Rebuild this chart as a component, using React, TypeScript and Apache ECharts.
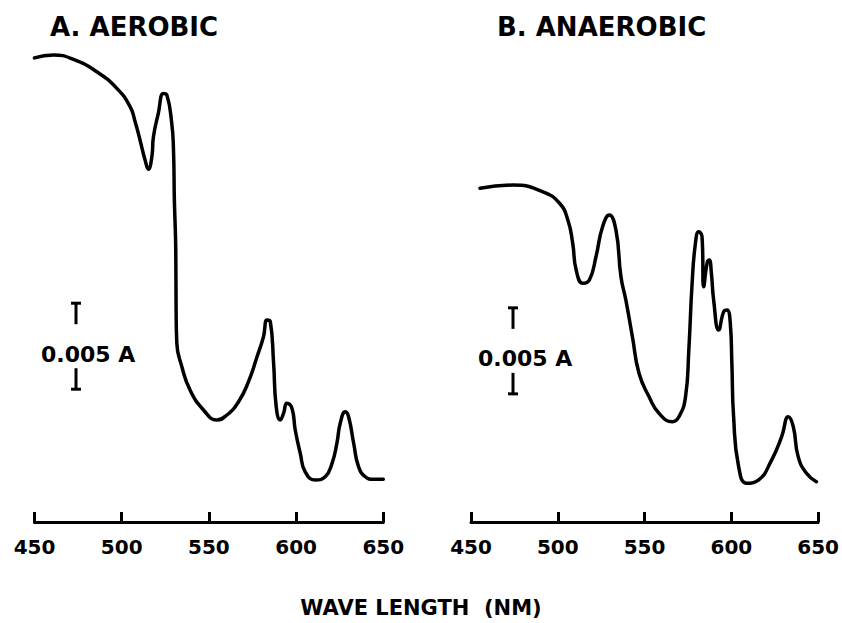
import { useEffect, useRef } from "react";
import * as echarts from "echarts";

// Wavelength (nm) and relative absorbance (units of 0.001 A, arbitrary baseline)
const aerobicNm = [450, 460.8, 472.3, 485.7, 497.2, 504.8, 507.7, 510.5, 513.4, 515.3, 517.3, 518.2, 521, 523.9, 525.9, 528.7, 529.7, 530.2, 531, 531.2, 531.6, 534.5, 539.2, 546.9, 554.6, 560.3, 567, 572.7, 577.6, 581.3, 583.3, 585.2, 587.1, 588.6, 590.9, 592.8, 594.7, 597.6, 599.5, 602.4, 605.2, 610.9, 616.7, 620.6, 623.4, 625.3, 628.2, 630.1, 633, 635.8, 639.7, 644.4, 650];
const aerobicAbs = [26.98, 27.15, 26.9, 26.18, 25.21, 24.15, 23.27, 22.21, 21.05, 20.51, 21.24, 22.4, 23.76, 24.92, 24.83, 23.18, 21.63, 18.72, 15.81, 12.33, 10.39, 9.03, 7.67, 6.51, 5.93, 6.22, 6.99, 8.16, 9.61, 10.77, 11.74, 11.65, 9.23, 6.7, 5.93, 6.32, 6.9, 6.61, 5.35, 3.99, 2.92, 2.44, 2.63, 3.41, 4.58, 5.74, 6.41, 6.12, 4.58, 3.22, 2.63, 2.48, 2.48];

const anaerobicNm = [455.2, 474.3, 491.4, 501, 505.8, 508.6, 510.6, 514.4, 518.2, 522, 525.8, 529.7, 533.5, 536.4, 539.2, 543, 546.8, 552.6, 558.3, 566, 569.8, 573.6, 575.5, 577.4, 579.3, 581.2, 583.1, 584.1, 586, 587.3, 588.5, 589.8, 592.7, 595.6, 597.5, 599.4, 600.3, 601.3, 604.2, 608.9, 615.6, 623.2, 629, 632.8, 635.7, 638.5, 643.3, 649];
const anaerobicAbs = [19.4, 19.59, 19.2, 18.53, 17.56, 16.2, 14.65, 13.88, 14.07, 15.42, 17.17, 17.85, 16.98, 14.26, 12.91, 10.77, 8.65, 7.28, 6.32, 5.83, 6.12, 7.28, 10.0, 13.88, 16.2, 16.88, 16.59, 13.68, 15.04, 15.23, 14.46, 12.91, 11.16, 12.23, 12.33, 11.55, 9.23, 6.12, 3.22, 2.25, 2.44, 3.6, 4.96, 6.12, 5.54, 3.8, 2.83, 2.34];

const panelTitles = ["A. AEROBIC", "B. ANAEROBIC"];
const xTicks = [450, 500, 550, 600, 650];
const axisTitle = "WAVE LENGTH  (NM)";

// Scale bar: position (nm), bottom value, span (0.005 A = 5 units)
const scaleBarNm = [473.8, 474.2];
const scaleBarBottom = [7.72, 7.45];
const scaleBarSpan = 5;
const scaleBarLabel = "0.005 A";

const FONT = '"DejaVu Sans", "Liberation Sans", sans-serif';

export default function App() {
  const ref = useRef<HTMLDivElement>(null);
  useEffect(() => {
    const chart = echarts.init(ref.current!, null, { renderer: "svg" });
    const grids = [
      { left: 34.5, right: 842 - 383.3, top: 40.4, bottom: 101 },
      { left: 471, right: 842 - 820, top: 40.4, bottom: 101 },
    ];
    const xAxes = grids.map((_, i) => ({
      gridIndex: i,
      type: "value",
      min: xTicks[0],
      max: xTicks[xTicks.length - 1],
      interval: xTicks[1] - xTicks[0],
      axisLine: { lineStyle: { color: "#000", width: 3, cap: "round" } },
      axisTick: { inside: true, length: 10, lineStyle: { color: "#000", width: 3 } },
      axisLabel: { color: "#000", fontSize: 20, fontWeight: "bold", fontFamily: FONT, margin: 15 },
      splitLine: { show: false },
    }));
    const yAxes = grids.map((_, i) => ({ gridIndex: i, type: "value", min: 0, max: 28, show: false }));
    const curves = [
      aerobicNm.map((x, i) => [x, aerobicAbs[i]]),
      anaerobicNm.map((x, i) => [x, anaerobicAbs[i]]),
    ];
    const lineSeries = curves.map((data, i) => ({
      type: "line",
      xAxisIndex: i,
      yAxisIndex: i,
      data,
      showSymbol: false,
      smooth: 0.5,
      lineStyle: { color: "#000", width: 3.5, cap: "round", join: "round" },
    }));
    const barSeries = scaleBarNm.map((x, i) => ({
      type: "custom",
      xAxisIndex: i,
      yAxisIndex: i,
      data: [[x, scaleBarBottom[i], scaleBarBottom[i] + scaleBarSpan]],
      renderItem: (_p: any, api: any) => {
        const xv = api.value(0);
        const top = api.coord([xv, api.value(2)]);
        const bot = api.coord([xv, api.value(1)]);
        const cap = 5;
        const seg = 21;
        const style = { stroke: "#000", lineWidth: 3 };
        return {
          type: "group",
          children: [
            { type: "line", shape: { x1: top[0] - cap, y1: top[1], x2: top[0] + cap, y2: top[1] }, style },
            { type: "line", shape: { x1: top[0], y1: top[1], x2: top[0], y2: top[1] + seg }, style },
            { type: "line", shape: { x1: bot[0], y1: bot[1] - seg, x2: bot[0], y2: bot[1] }, style },
            { type: "line", shape: { x1: bot[0] - cap, y1: bot[1], x2: bot[0] + cap, y2: bot[1] }, style },
            {
              type: "text",
              x: top[0] - 35,
              y: (top[1] + bot[1]) / 2 + 8,
              style: {
                text: scaleBarLabel,
                fill: "#000",
                fontSize: 22,
                fontWeight: "bold",
                fontFamily: FONT,
                align: "left",
                verticalAlign: "middle",
              },
            },
          ],
        };
      },
    }));
    chart.setOption({
      animation: false,
      backgroundColor: "#fff",
      grid: grids,
      xAxis: xAxes,
      yAxis: yAxes,
      series: [...lineSeries, ...barSeries],
      graphic: [
        {
          type: "text", left: 50, top: 14,
          style: { text: panelTitles[0], fill: "#000", fontSize: 26, fontWeight: "bold", fontFamily: FONT },
        },
        {
          type: "text", left: 497, top: 14,
          style: { text: panelTitles[1], fill: "#000", fontSize: 26, fontWeight: "bold", fontFamily: FONT },
        },
        {
          type: "text", left: "center", top: 597,
          style: { text: axisTitle, fill: "#000", fontSize: 21, fontWeight: "bold", fontFamily: FONT },
        },
      ],
    });
    return () => chart.dispose();
  }, []);
  return <div ref={ref} style={{ position: "fixed", left: 0, top: 0, width: 842, height: 623 }} />;
}
